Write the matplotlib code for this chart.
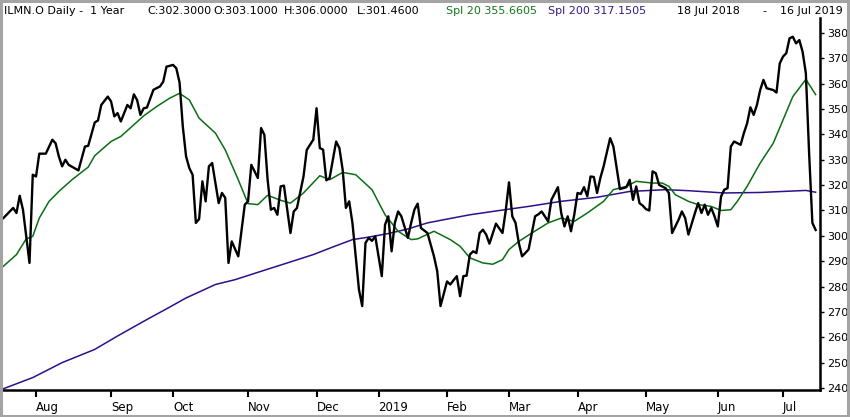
import matplotlib
matplotlib.use("Agg")
import matplotlib.pyplot as plt
from matplotlib.patches import Rectangle
import pandas as pd

# NYSE holidays in the window (trading-day x axis, no weekend gaps)
holidays = ["2018-09-03", "2018-11-22", "2018-12-05", "2018-12-25", "2019-01-01",
            "2019-01-21", "2019-02-18", "2019-04-19", "2019-05-27", "2019-07-04"]
month_labels = ["Aug", "Sep", "Oct", "Nov", "Dec", "2019", "Feb", "Mar", "Apr", "May", "Jun", "Jul"]

# close price (trading-day index, price)
close_day = [0, 3, 4, 5, 6, 8, 9, 10, 11, 13, 15, 16, 17, 18, 19, 20, 23, 25, 26, 28,
             29, 30, 32, 33, 34, 35, 36, 38, 39, 40, 41, 42, 43, 44, 46, 48, 49, 50, 52, 53,
             54, 55, 56, 57, 58, 59, 60, 61, 62, 63, 64, 66, 67, 68, 69, 70, 72, 74, 75, 76,
             78, 79, 80, 81, 82, 83, 84, 85, 86, 87, 88, 89, 90, 92, 93, 95, 96, 97, 98, 99,
             100, 101, 102, 103, 104, 105, 106, 107, 109, 110, 111, 112, 113, 114, 116, 117, 118, 119, 120, 121,
             122, 124, 125, 126, 127, 128, 130, 132, 133, 134, 136, 137, 138, 139, 140, 141, 142, 143, 144, 145,
             146, 147, 148, 149, 151, 153, 154, 155, 156, 157, 158, 159, 161, 162, 163, 164, 165, 167, 168, 170,
             171, 172, 173, 174, 175, 176, 177, 178, 179, 180, 181, 182, 183, 184, 186, 187, 188, 189, 190, 191,
             192, 193, 194, 195, 196, 197, 198, 199, 200, 201, 203, 204, 205, 207, 208, 209, 210, 212, 213, 214,
             215, 216, 217, 218, 219, 220, 221, 222, 223, 224, 226, 227, 228, 229, 230, 231, 232, 233, 234, 236,
             237, 238, 239, 240, 241, 242, 243, 244, 245, 246, 247, 248, 249]
close_px = [307.0, 311.0, 309.0, 315.8, 310.3, 289.3, 324.1, 323.4, 332.4, 332.4, 337.9, 336.5, 331.3, 327.4, 330.0, 328.0, 325.8, 335.2, 335.5, 344.7,
            345.5, 351.6, 354.9, 353.0, 347.1, 348.4, 345.1, 351.6, 350.3, 355.8, 353.5, 347.7, 350.3, 350.6, 357.6, 358.9, 360.8, 366.7, 367.4, 366.1,
            360.5, 343.1, 331.3, 326.7, 324.1, 305.1, 306.6, 321.5, 313.6, 327.4, 328.7, 312.9, 316.9, 315.0, 289.3, 297.8, 291.9, 312.3, 313.6, 328.0,
            322.8, 342.5, 339.8, 322.1, 310.3, 311.0, 308.3, 319.5, 319.8, 310.3, 301.1, 309.6, 311.0, 323.4, 333.9, 337.9, 350.3, 334.6, 334.0, 321.9,
            322.8, 330.0, 337.2, 334.6, 326.1, 311.0, 313.6, 305.1, 278.8, 272.3, 297.2, 299.2, 298.0, 299.8, 284.1, 304.4, 307.7, 293.9, 305.1, 309.6,
            307.7, 299.2, 305.1, 310.3, 312.7, 303.1, 301.1, 291.9, 286.0, 272.3, 282.0, 280.8, 282.5, 284.1, 276.2, 284.1, 284.3, 292.6, 293.9, 293.2,
            301.1, 302.4, 300.5, 296.9, 304.8, 301.1, 310.0, 321.1, 307.7, 305.1, 297.2, 291.9, 294.6, 301.1, 307.7, 308.5, 309.6, 305.7, 314.2, 319.2,
            309.0, 303.7, 307.7, 301.8, 308.3, 316.9, 316.5, 319.2, 315.6, 323.4, 323.2, 316.9, 322.8, 327.4, 338.5, 335.2, 326.7, 318.4, 318.8, 319.2,
            322.1, 314.2, 319.5, 312.9, 311.9, 310.5, 310.0, 325.4, 324.7, 320.1, 318.8, 316.9, 301.1, 306.4, 309.6, 307.0, 300.5, 309.0, 312.9, 309.0,
            312.3, 308.3, 311.0, 307.7, 303.7, 315.5, 318.2, 318.8, 335.2, 337.2, 335.9, 340.5, 344.4, 350.7, 347.7, 351.6, 357.5, 361.5, 358.2, 357.5,
            356.5, 368.0, 370.7, 372.0, 377.9, 378.5, 375.9, 377.2, 372.6, 364.1, 332.6, 305.1, 302.3]

# 20-day spline
spl20_day = [0, 4, 7, 9, 11, 14, 17, 21, 26, 28, 33, 36, 40, 43, 47, 51, 54, 57, 60, 65,
             68, 72, 75, 78, 81, 85, 88, 92, 97, 100, 104, 108, 113, 117, 121, 125, 127, 132, 137, 140,
             143, 147, 150, 153, 155, 158, 162, 167, 171, 175, 179, 184, 187, 191, 194, 199, 202, 204, 206, 210,
             213, 217, 220, 223, 225, 228, 232, 236, 239, 242, 246, 249]
spl20_px = [288.0, 292.6, 298.8, 299.8, 307.0, 313.6, 317.5, 322.1, 327.1, 331.6, 337.2, 339.2, 343.8, 347.3, 351.0, 354.3, 356.2, 353.6, 346.4, 340.5,
            333.9, 322.1, 312.7, 312.3, 316.0, 314.0, 312.9, 316.9, 323.7, 322.1, 325.0, 324.1, 318.2, 308.3, 301.8, 298.5, 298.8, 301.8, 298.5, 295.9,
            291.3, 289.3, 288.8, 290.6, 294.6, 297.8, 301.1, 305.1, 307.0, 305.7, 309.0, 313.6, 318.2, 319.5, 321.5, 320.8, 320.8, 319.5, 316.2, 313.6,
            312.3, 311.6, 310.0, 310.3, 313.6, 319.5, 328.7, 336.5, 345.7, 354.9, 361.7, 355.7]

# 200-day spline
spl200_day = [0, 9, 18, 28, 35, 44, 50, 56, 65, 71, 78, 87, 95, 101, 107, 112, 118, 124, 130, 136,
              143, 151, 161, 171, 182, 192, 203, 210, 221, 232, 246, 249]
spl200_px = [239.7, 244.1, 250.0, 255.2, 260.5, 267.0, 271.2, 275.5, 280.8, 282.7, 285.6, 289.3, 292.6, 295.6, 298.5, 299.5, 300.9, 302.7, 305.1, 306.6,
             308.3, 309.8, 311.6, 313.6, 315.2, 317.5, 318.2, 317.8, 316.9, 317.1, 317.9, 317.2]

W, H = 850, 417
fig = plt.figure(figsize=(W / 100, H / 100), dpi=100)
fig.patch.set_facecolor("white")

x0, x1, yb, yt = 3.4, 820, 390, 18
ax = fig.add_axes([x0 / W, 1 - yb / H, (x1 - x0) / W, (yb - yt) / H])
ax.set_facecolor("white")

days = pd.bdate_range("2018-07-18", "2019-07-16", freq="C", holidays=holidays)
month_pos = [i for i in range(1, len(days)) if days[i].month != days[i - 1].month]

ax.plot(spl200_day, spl200_px, color="#2e0f8c", lw=1.1)
ax.plot(spl20_day, spl20_px, color="#0b6e12", lw=1.1)
ax.plot(close_day, close_px, color="black", lw=1.7)

ax.set_xlim(0, (x1 - x0) / 3.262)
ax.set_ylim(239.2, 385.9)

for s in ["top", "left"]:
    ax.spines[s].set_visible(False)
ax.spines["bottom"].set_linewidth(1.8)
ax.spines["right"].set_linewidth(1.8)

ax.yaxis.tick_right()
ax.set_yticks(range(240, 381, 10))
ax.tick_params(axis="y", direction="out", length=3, width=1, pad=2, labelsize=8)
ax.set_xticks(month_pos)
ax.set_xticklabels(month_labels)
ax.tick_params(axis="x", direction="out", length=5, width=1.5, pad=3, labelsize=8.5)
for t in ax.get_xticklabels():
    t.set_horizontalalignment("left")

# header line
hy = 1 - 11.5 / H
header = [(4, "ILMN.O Daily -  1 Year", "black"),
          (147, "C:302.3000", "black"),
          (213, "O:303.1000", "black"),
          (284, "H:306.0000", "black"),
          (357, "L:301.4600", "black"),
          (446, "Spl 20 355.6605", "#137a1a"),
          (548, "Spl 200 317.1505", "#341a8c"),
          (677, "18 Jul 2018", "black"),
          (762, "-", "black"),
          (780, "16 Jul 2019", "black")]
for hx, txt, col in header:
    fig.text(hx / W, hy, txt, color=col, fontsize=8, ha="left", va="center")

# grey window frame
fig.patches.append(Rectangle((0.001, 0.002), 0.997, 0.996, transform=fig.transFigure,
                             fill=False, edgecolor="#a4a4a4", lw=2.2))

fig.savefig("out.png", dpi=100)
